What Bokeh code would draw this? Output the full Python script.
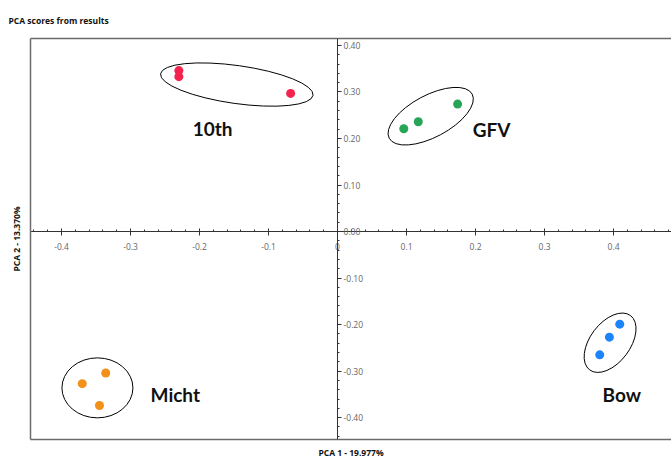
import numpy as np
from bokeh.plotting import figure
from bokeh.models import Range1d, LinearAxis, FixedTicker, NumeralTickFormatter, Label
from bokeh.embed import file_html
from bokeh.resources import INLINE

# ---- data ----
groups = ["10th", "GFV", "Micht", "Bow"]
colors = ["#f4224e", "#27a556", "#f39019", "#1a84f8"]
pc1_10th = [-0.230, -0.230, -0.068]
pc2_10th = [0.346, 0.333, 0.297]
pc1_gfv = [0.096, 0.117, 0.174]
pc2_gfv = [0.221, 0.236, 0.274]
pc1_micht = [-0.370, -0.336, -0.345]
pc2_micht = [-0.327, -0.304, -0.374]
pc1_bow = [0.409, 0.394, 0.380]
pc2_bow = [-0.199, -0.227, -0.265]

x_ticks = [-0.4, -0.3, -0.2, -0.1, 0.0, 0.1, 0.2, 0.3, 0.4]
x_tick_labels = ["-0.4", "-0.3", "-0.2", "-0.1", "0", "0.1", "0.2", "0.3", "0.4"]
y_ticks = [-0.4, -0.3, -0.2, -0.1, 0.0, 0.1, 0.2, 0.3, 0.4]
y_tick_labels = ["-0.40", "-0.30", "-0.20", "-0.10", "0.00", "0.10", "0.20", "0.30", "0.40"]

title_text = "PCA scores from results"
x_title = "PCA 1 - 19.977%"
y_title = "PCA 2 - 13.370%"

# annotation placement (group outlines and names)
ell_x = [-0.146, 0.135, -0.348, 0.395]
ell_y = [0.316, 0.248, -0.336, -0.239]
ell_w = [154, 94, 71, 68]
ell_h = [38, 42, 60, 40]
ell_deg = [-8, 28, 0, 53]
lab_x = [-0.210, 0.196, -0.271, 0.384]
lab_y = [0.221, 0.219, -0.351, -0.351]

# ---- figure ----
p = figure(width=671, height=460,
           x_range=Range1d(-0.445, 0.484), y_range=Range1d(-0.447, 0.415),
           output_backend="svg", toolbar_location=None,
           x_axis_location=None, y_axis_location=None,
           min_border_left=30, min_border_right=0, min_border_top=38, min_border_bottom=18,
           title=title_text)
p.outline_line_color = None
p.background_fill_color = "white"
p.xgrid.visible = False
p.ygrid.visible = False
p.title.text_font = "Open Sans"
p.title.text_font_size = "8.5px"
p.title.text_font_style = "bold"
p.title.text_color = "#111111"
p.title.align = "left"
p.title.offset = -22
p.title.standoff = 25

frame_style = dict(axis_line_color="#6b6b6b", axis_line_width=1.5,
                   major_tick_line_color=None, minor_tick_line_color=None,
                   major_label_standoff=0,
                   axis_label_text_font="Open Sans", axis_label_text_font_size="8.5px",
                   axis_label_text_font_style="bold", axis_label_text_color="#111111")

left_ax = LinearAxis(ticker=FixedTicker(ticks=[]), axis_label=y_title,
                     axis_label_standoff=9, **frame_style)
bottom_ax = LinearAxis(ticker=FixedTicker(ticks=[]), axis_label=x_title,
                       axis_label_standoff=7, **frame_style)
top_ax = LinearAxis(ticker=FixedTicker(ticks=[]), **frame_style)
p.add_layout(left_ax, "left")
p.add_layout(bottom_ax, "below")
p.add_layout(top_ax, "above")

minor = list(np.round(np.arange(-0.44, 0.481, 0.02), 2))
tick_style = dict(axis_line_color="#333333", axis_line_width=1,
                  major_tick_line_color="#333333", minor_tick_line_color="#333333",
                  major_label_text_font="Open Sans", major_label_text_font_size="8.5px",
                  major_label_text_color="#666666")

x_ax = LinearAxis(fixed_location=0,
                  ticker=FixedTicker(ticks=x_ticks, minor_ticks=minor),
                  formatter=NumeralTickFormatter(format="0.0"),
                  major_label_overrides={t: l for t, l in zip(x_ticks, x_tick_labels)},
                  major_tick_in=3, major_tick_out=4, minor_tick_in=2, minor_tick_out=0,
                  major_label_standoff=7, **tick_style)
y_ax = LinearAxis(fixed_location=0,
                  ticker=FixedTicker(ticks=y_ticks, minor_ticks=minor),
                  formatter=NumeralTickFormatter(format="0.00"),
                  major_label_overrides={t: l for t, l in zip(y_ticks, y_tick_labels)},
                  major_tick_in=0, major_tick_out=4, minor_tick_in=0, minor_tick_out=2,
                  major_label_standoff=2, **tick_style)
p.add_layout(x_ax, "below")
p.add_layout(y_ax, "right")

# ---- group outlines ----
p.ellipse(x=ell_x, y=ell_y, width=ell_w, height=ell_h,
          angle=[np.deg2rad(a) for a in ell_deg],
          width_units="screen", height_units="screen",
          fill_color=None, line_color="black", line_width=1)

# ---- scores ----
series = [(pc1_10th, pc2_10th), (pc1_gfv, pc2_gfv), (pc1_micht, pc2_micht), (pc1_bow, pc2_bow)]
for (xs, ys), c in zip(series, colors):
    p.scatter(x=xs, y=ys, size=9, fill_color=c, line_color=None)

# ---- group names ----
for g, lx, ly in zip(groups, lab_x, lab_y):
    p.add_layout(Label(x=lx, y=ly, text=g, text_font="Lato", text_font_size="19px",
                       text_font_style="bold", text_color="#111111",
                       text_baseline="middle", text_align="left"))

open("out.html", "w").write(file_html(p, INLINE))
